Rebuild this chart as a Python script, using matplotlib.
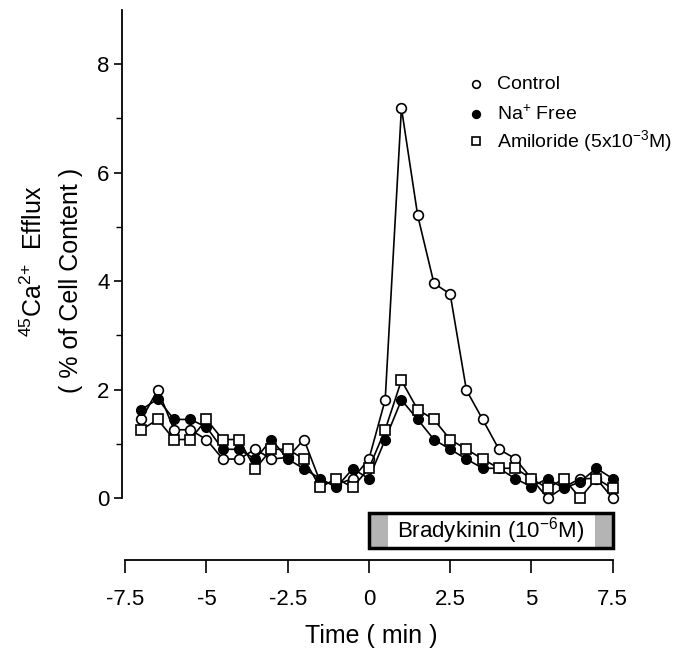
import matplotlib
matplotlib.use("Agg")
import matplotlib.pyplot as plt
from matplotlib.patches import Rectangle
from matplotlib.ticker import FixedLocator

plt.rcParams['font.family'] = ['Liberation Sans', 'DejaVu Sans']
plt.rcParams['mathtext.fontset'] = 'custom'
plt.rcParams['mathtext.rm'] = 'Liberation Sans'
plt.rcParams['mathtext.it'] = 'Liberation Sans'
plt.rcParams['mathtext.default'] = 'regular'

# tiempo (min), una muestra cada 30 s
tiempo = [-7, -6.5, -6, -5.5, -5, -4.5, -4, -3.5, -3, -2.5, -2, -1.5, -1, -0.5, 0,
          0.5, 1, 1.5, 2, 2.5, 3, 3.5, 4, 4.5, 5, 5.5, 6, 6.5, 7, 7.5]

control = [1.45, 2.0, 1.26, 1.26, 1.08, 0.72, 0.72, 0.90, 0.72, 0.75, 1.08, 0.30, 0.25, 0.36, 0.72,
           1.81, 7.19, 5.21, 3.96, 3.76, 1.99, 1.45, 0.90, 0.73, 0.36, 0.0, 0.20, 0.36, 0.36, 0.0]

na_free = [1.63, 1.83, 1.45, 1.45, 1.31, 0.90, 0.90, 0.72, 1.08, 0.72, 0.54, 0.36, 0.20, 0.54, 0.36,
           1.08, 1.81, 1.45, 1.08, 0.90, 0.72, 0.55, 0.55, 0.36, 0.21, 0.36, 0.18, 0.30, 0.55, 0.36]

amilorida = [1.26, 1.45, 1.08, 1.08, 1.45, 1.08, 1.08, 0.54, 0.90, 0.90, 0.72, 0.20, 0.36, 0.20, 0.55,
             1.26, 2.17, 1.63, 1.45, 1.08, 0.90, 0.72, 0.55, 0.55, 0.36, 0.18, 0.36, 0.0, 0.36, 0.18]

etiquetas = ['Control', 'Na$^{{+}}$ Free', 'Amiloride (5x10$^{-3}$M)']
xticks = [-7.5, -5, -2.5, 0, 2.5, 5, 7.5]
xtick_labels = ['-7.5', '-5', '-2.5', '0', '2.5', '5', '7.5']

fig = plt.figure(figsize=(6.74, 6.5), dpi=100)
ax = fig.add_axes([0.181, 0.1385, 0.74, 0.8465])

ax.plot(tiempo, control, '-o', color='black', mfc='white', mec='black', ms=7, lw=1.2, mew=1.2, zorder=3)
ax.plot(tiempo, na_free, '-o', color='black', mfc='black', mec='black', ms=7, lw=1.2, zorder=3)
ax.plot(tiempo, amilorida, '-s', color='black', mfc='white', mec='black', ms=7, lw=1.2, mew=1.2, zorder=3)

# leyenda dibujada a mano
ley_y = [7.63, 7.08, 6.58]
ley_m = [dict(marker='o', mfc='white'), dict(marker='o', mfc='black'), dict(marker='s', mfc='white')]
for yy, m, txt in zip(ley_y, ley_m, etiquetas):
    ax.plot([3.3], [yy], linestyle='none', mec='black', ms=5.5, mew=1.2, **m)
    ax.text(3.95, yy, txt, fontsize=14, va='center', ha='left')

# barra de bradiquinina
ax.add_patch(Rectangle((0, -0.92), 7.5, 0.64, facecolor='white', edgecolor='none', zorder=2))
ax.add_patch(Rectangle((0, -0.92), 0.6, 0.64, facecolor='#b4b4b4', edgecolor='none', zorder=2))
ax.add_patch(Rectangle((6.95, -0.92), 0.55, 0.64, facecolor='#b4b4b4', edgecolor='none', zorder=2))
ax.add_patch(Rectangle((0, -0.92), 7.5, 0.64, facecolor='none', edgecolor='black', lw=2.5, zorder=2))
ax.text(3.75, -0.6, 'Bradykinin (10$^{-6}$M)', fontsize=16, ha='center', va='center')

ax.set_xlim(-7.6, 7.75)
ax.set_ylim(-1.14, 9.0)
ax.spines['top'].set_visible(False)
ax.spines['right'].set_visible(False)
ax.spines['left'].set_bounds(0, 9.0)
ax.spines['bottom'].set_bounds(-7.5, 7.5)
ax.spines['left'].set_linewidth(1.3)
ax.spines['bottom'].set_linewidth(1.3)

ax.set_yticks([0, 2, 4, 6, 8])
ax.yaxis.set_minor_locator(FixedLocator([1, 3, 5, 7]))
ax.set_xticks(xticks)
ax.set_xticklabels(xtick_labels)
ax.tick_params(axis='y', which='major', length=6, width=1.2, labelsize=16, pad=3)
ax.tick_params(axis='y', which='minor', length=4, width=1.0)
ax.tick_params(axis='x', length=9, width=1.2, labelsize=16, pad=12)

ax.set_xlabel('Time ( min )', fontsize=18, labelpad=10)

fig.text(0.05, 0.598, '$^{45}$Ca$^{2{+}}$  Efflux', rotation=90, fontsize=18, ha='center', va='center')
fig.text(0.105, 0.568, '( % of Cell Content )', rotation=90, fontsize=18, ha='center', va='center')

plt.savefig('out.png', dpi=100)
